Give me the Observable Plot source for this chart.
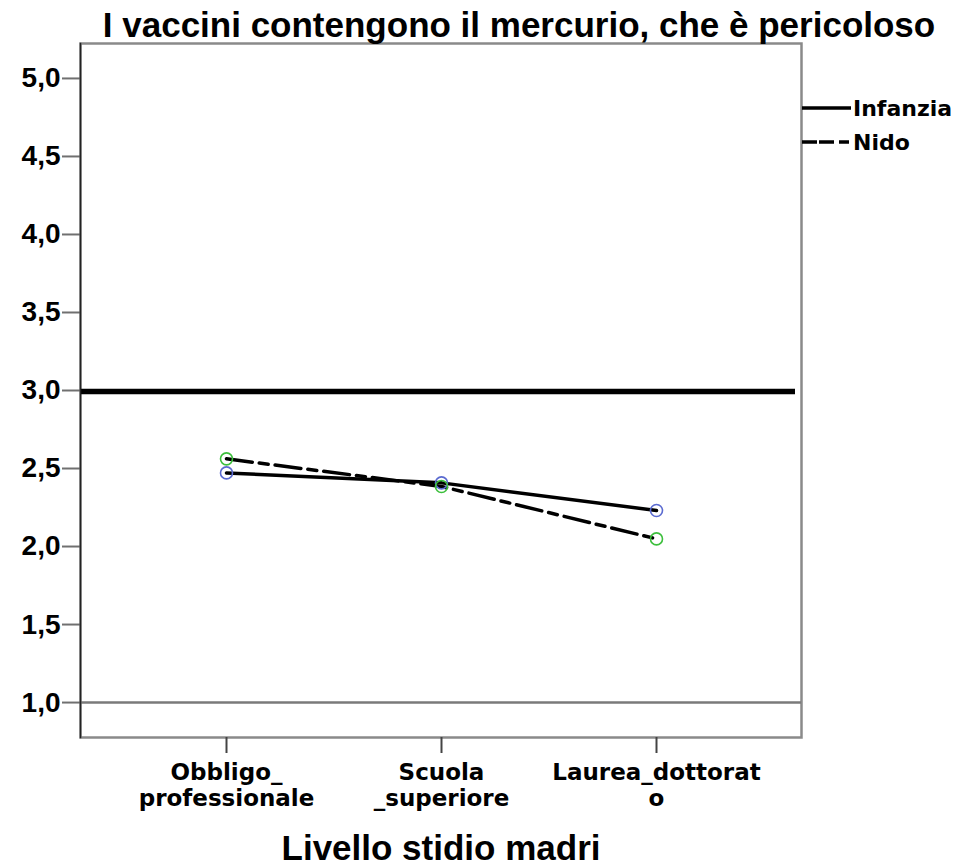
<!DOCTYPE html>
<html>
<head>
<meta charset="utf-8">
<script src="https://cdn.jsdelivr.net/npm/d3@7"></script>
<script src="https://cdn.jsdelivr.net/npm/@observablehq/plot@0.6"></script>
<style>
  body { margin: 0; background: #fff; }
  #wrap { position: relative; width: 961px; height: 865px; }
  #legend { position: absolute; left: 0; top: 0; }
</style>
</head>
<body>
<div id="wrap"></div>
<script>
const categories = ["Obbligo_professionale", "Scuola_superiore", "Laurea_dottorato"];
const categoryLabels = ["Obbligo_\nprofessionale", "Scuola\n_superiore", "Laurea_dottorat\no"];
const infanzia = [2.472, 2.408, 2.231];
const nido = [2.562, 2.385, 2.049];
const seriesNames = ["Infanzia", "Nido"];
const yTicks = [1.0, 1.5, 2.0, 2.5, 3.0, 3.5, 4.0, 4.5, 5.0];
const referenceValue = 3.0;
const baselineValue = 1.0;
const title = "I vaccini contengono il mercurio, che è pericoloso";
const xTitle = "Livello stidio madri";

const rows = [
  ...categories.map((c, i) => ({cat: c, value: infanzia[i], series: "Infanzia"})),
  ...categories.map((c, i) => ({cat: c, value: nido[i], series: "Nido"}))
];
const infRows = rows.filter(d => d.series === "Infanzia");
const nidoRows = rows.filter(d => d.series === "Nido");
const fmt = d => d.toFixed(1).replace(".", ",");
const font = "'Liberation Sans', Arial, sans-serif";
const font2 = "'DejaVu Sans', Tahoma, sans-serif";

const chart = Plot.plot({
  width: 961,
  height: 865,
  marginTop: 43,
  marginBottom: 128,
  marginLeft: 80,
  marginRight: 160,
  style: {fontFamily: font, fontWeight: "bold", color: "black", background: "white"},
  x: {type: "point", domain: categories, padding: 0.67},
  y: {domain: [0.776, 5.224]},
  marks: [
    Plot.frame({stroke: "#8a8a8a", strokeWidth: 2.5}),
    Plot.ruleY([baselineValue], {stroke: "#7a7a7a", strokeWidth: 2.5}),
    Plot.ruleY([referenceValue], {stroke: "black", strokeWidth: 5.5, insetRight: 6, dy: 1}),
    Plot.axisY({ticks: yTicks, tickFormat: fmt, tickSize: 18, tickPadding: 2, fontSize: 28, stroke: "#707070", strokeWidth: 2, fill: "black", label: null}),
    Plot.axisX({tickSize: 16, tickPadding: 8, fontSize: 23, fontFamily: font2, lineHeight: 1.12, stroke: "#444", strokeWidth: 2, fill: "black", tickFormat: d => categoryLabels[categories.indexOf(d)], label: null}),
    Plot.line(infRows, {x: "cat", y: "value", stroke: "black", strokeWidth: 3.5}),
    Plot.line(nidoRows, {x: "cat", y: "value", stroke: "black", strokeWidth: 3.5, strokeDasharray: "26,7,9,7"}),
    Plot.dot(infRows, {x: "cat", y: "value", r: 6, stroke: "#5a6ad0", strokeWidth: 1.6, fill: "none"}),
    Plot.dot(nidoRows, {x: "cat", y: "value", r: 6, stroke: "#3cbf3c", strokeWidth: 1.6, fill: "none"}),
    Plot.frame({anchor: "left", stroke: "#222", strokeWidth: 1.5}),
    Plot.text([title], {frameAnchor: "top", dx: 78, dy: -7, lineAnchor: "bottom", fontSize: 35, fontWeight: "bold", fill: "black", text: d => d}),
    Plot.text([xTitle], {frameAnchor: "bottom", dy: 122, lineAnchor: "bottom", fontSize: 35, fontWeight: "bold", fill: "black", text: d => d})
  ]
});
const wrap = document.getElementById("wrap");
wrap.appendChild(chart);

// Legend
const leg = d3.select(wrap).append("svg").attr("id", "legend").attr("width", 961).attr("height", 865);
const legendItems = [
  {name: seriesNames[0], y: 108, dash: null},
  {name: seriesNames[1], y: 142, dash: "15,2,15,5,10,5"}
];
legendItems.forEach(it => {
  leg.append("line").attr("x1", 802).attr("x2", 851).attr("y1", it.y).attr("y2", it.y)
    .attr("stroke", "black").attr("stroke-width", 3.5).attr("stroke-dasharray", it.dash);
  leg.append("text").attr("x", 853).attr("y", it.y).attr("dy", "0.36em")
    .attr("font-family", font2).attr("font-weight", "bold").attr("font-size", 22).attr("fill", "black")
    .text(it.name);
});
</script>
</body>
</html>
